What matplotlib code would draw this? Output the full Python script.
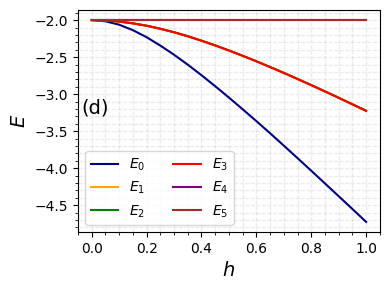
import matplotlib
matplotlib.use("Agg")
import matplotlib.pyplot as plt

# field values
h = [0.0, 0.05, 0.1, 0.15, 0.2, 0.25, 0.3, 0.35, 0.4, 0.45, 0.5,
     0.55, 0.6, 0.65, 0.7, 0.75, 0.8, 0.85, 0.9, 0.95, 1.0]

# energies
E0 = [-2.000, -2.016, -2.062, -2.136, -2.231, -2.344, -2.468, -2.602, -2.744, -2.893, -3.046,
      -3.204, -3.364, -3.528, -3.695, -3.864, -4.034, -4.206, -4.378, -4.551, -4.725]
E3 = [-2.000, -2.005, -2.020, -2.044, -2.076, -2.117, -2.164, -2.218, -2.278, -2.342, -2.410,
      -2.482, -2.556, -2.634, -2.713, -2.795, -2.878, -2.963, -3.049, -3.137, -3.225]
E1 = E3
E2 = E3
E4 = [-2.0] * len(h)
E5 = [-2.0] * len(h)

levels = [E0, E1, E2, E3, E4, E5]
colors = ['navy', 'orange', 'green', 'red', 'purple', 'brown']

fig = plt.figure(figsize=(3.9, 2.9), dpi=100)
ax = fig.add_axes([0.2, 0.2, 0.774, 0.7655])

for i, (E, c) in enumerate(zip(levels, colors)):
    ax.plot(h, E, color=c, lw=1.5, label=f'$E_{i}$')

ax.minorticks_on()
ax.grid(which='both', linestyle=(0, (3, 1)), color='gray', alpha=0.15, lw=1.0)
ax.set_xlabel('$h$', fontsize=14)
ax.set_ylabel('$E$', fontsize=14)
ax.text(0.012, 0.56, '(d)', transform=ax.transAxes, fontsize=14, va='center')
ax.legend(ncol=2, loc='lower left')

fig.savefig('out.png', dpi=100)
